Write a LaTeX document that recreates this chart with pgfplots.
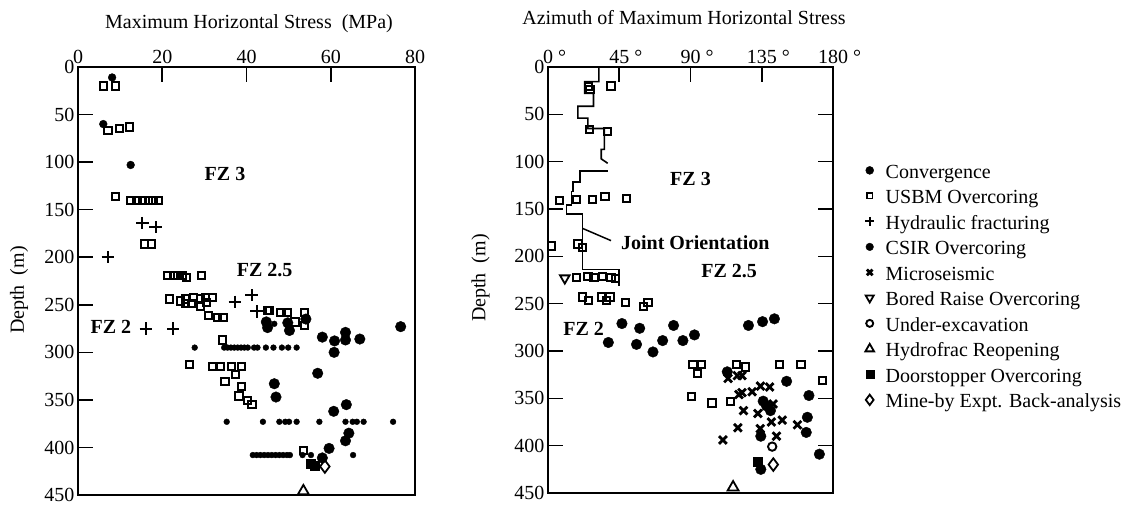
\documentclass[border=0pt]{standalone}
\usepackage{fontspec}
\setmainfont{Liberation Serif}
\usepackage{pgfplots}
\pgfplotsset{compat=1.18}
\newcommand{\fs}{\fontsize{20}{24}\selectfont}
\pgfplotsset{
  conv/.style={only marks, black, mark=*, mark size=5.3pt},
  convs/.style={only marks, black, mark=*, mark size=3.9pt},
  csir/.style={only marks, black, mark=*, mark size=2.9pt},
  usbm/.style={only marks, black, mark=square, mark size=3.6pt, mark options={line width=2pt}},
  hyd/.style={only marks, black, mark=+, mark size=6.2pt, mark options={line width=2pt}},
  micro/.style={only marks, black, mark=x, mark size=5.5pt, mark options={line width=2.8pt}},
  bored/.style={only marks, black, mark=triangle, mark size=5.5pt, mark options={rotate=180, line width=1.8pt, fill=white}},
  under/.style={only marks, black, mark=o, mark size=4.2pt, mark options={line width=1.9pt, fill=white}},
  hfr/.style={only marks, black, mark=triangle, mark size=6.3pt, mark options={line width=1.8pt, fill=white}},
  door/.style={only marks, black, mark=square*, mark size=4.7pt},
  mine/.style={only marks, black, mark=diamond, mark size=6.3pt, mark options={line width=1.8pt, fill=white}},
  base/.style={
    scale only axis, clip=false, y dir=reverse, ymin=0, ymax=450,
    ytick={0,50,...,450},
    tick align=inside, major tick length=15pt,
    axis line style={line width=1.6pt},
    every tick/.style={black, line width=1.6pt},
    tick label style={font=\fs},
    /pgf/number format/assume math mode=true,
    xtick pos=top, xticklabel pos=top,
    yticklabel pos=left,
  },
}
\begin{document}
\begin{tikzpicture}[x=1pt,y=1pt]
\useasboundingbox (0,-511) rectangle (1140,0);
% ---------------- left panel ----------------
\begin{axis}[base, at={(78pt,-67pt)}, anchor=north west, width=337pt, height=428pt,
  xmin=0, xmax=80, xtick={0,20,40,60,80}, ytick pos=left]
\addplot[convs] coordinates {(8.1,11) (6.0,60) (12.5,103)};
\addplot[conv] coordinates {
 (44.7,268) (45.0,274) (49.8,269) (50.2,277) (54.1,265) (58.0,284) (60.9,288)
 (60.8,300) (63.5,279) (63.5,287) (66.9,286) (76.6,273)
 (46.6,333) (47.0,347) (56.9,322) (60.7,362) (63.7,355) (64.3,385) (63.5,393)
 (59.6,401) (58.0,411)};
\addplot[csir] coordinates {
 (46.6,270)
 (27.7,295) (34.7,295) (35.5,295) (36.3,295) (37.1,295) (37.9,295) (38.7,295)
 (39.5,295) (40.3,295) (41.8,295) (42.6,295) (44.6,295) (46.4,295) (48.4,295)
 (49.9,295) (51.9,295)
 (35.3,373) (43.9,373) (47.8,373) (49.2,373) (50.1,373) (51.9,373) (57.3,373)
 (63.5,373) (65.2,373) (66.2,373) (67.8,373) (74.8,373)
 (41.5,408) (42.4,408) (43.3,408) (44.2,408) (45.1,408) (46.0,408) (46.9,408)
 (47.8,408) (48.7,408) (49.6,408) (50.3,408) (53.3,408) (55.3,408) (65.3,408)};
\addplot[usbm] coordinates {
 (6.0,20) (8.9,20) (7.1,67) (9.8,65) (12.2,63) (8.9,136)
 (12.6,140) (14.0,140) (15.3,140) (16.7,140) (17.8,140) (19.1,140)
 (15.7,186) (17.4,186)
 (21.2,219) (22.6,219) (23.7,219) (24.8,219) (25.8,221) (29.4,219)
 (21.7,244) (24.3,246) (25.6,244) (27.5,242) (29.0,243) (30.2,242) (32.0,242)
 (25.6,249) (27.0,249) (29.0,252) (30.5,248) (30.9,261)
 (33.1,263) (34.4,263) (34.3,287)
 (44.9,256) (45.5,256) (48.2,258) (49.6,258) (51.5,268) (53.7,258) (53.7,272)
 (26.4,313) (31.9,315) (33.9,315) (36.4,315) (38.9,315) (34.9,331) (37.3,323)
 (38.9,336) (38.2,346) (40.2,351) (41.3,355) (53.5,403)};
\addplot[hyd] coordinates {
 (15.3,164) (18.4,168.5) (7.1,200) (37.2,247) (41.2,240) (42.4,257) (16.1,275) (22.6,275)};
\addplot[door] coordinates {(55.2,417) (56.2,419)};
\addplot[mine] coordinates {(58.6,420)};
\addplot[hfr] coordinates {(53.5,446)};
\node[font=\fs\bfseries] at (axis cs:34.9,112.6) {FZ 3};
\node[font=\fs\bfseries] at (axis cs:44.3,213) {FZ 2.5};
\node[font=\fs\bfseries] at (axis cs:7.8,273.4) {FZ 2};
\end{axis}
% ---------------- right panel ----------------
\begin{axis}[base, at={(548pt,-67pt)}, anchor=north west, width=285pt, height=426pt,
  xmin=0, xmax=180, xtick={0,45,90,135,180},
  xticklabels={0\rlap{\ °},45\rlap{\ °},90\rlap{\ °},135\rlap{\ °},180\rlap{\ °}},
  ytick pos=both,
  legend cell align=left,
  legend image code/.code={\path[draw=none,fill=none] (0pt,-2pt) rectangle (12pt,2pt); \draw[#1] plot coordinates {(3pt,3pt)};},
  legend style={at={(1.1123,0.776)}, anchor=north west, draw=none, fill=none,
    font=\fs, row sep=4pt, column sep=5.5pt, inner sep=0pt,
    nodes={inner sep=1.5pt, text height=14pt, text depth=4.5pt}}]
\addlegendimage{conv, mark size=4pt}\addlegendentry{Convergence}
\addlegendimage{usbm, mark size=2.8pt, mark options={line width=1.6pt}}\addlegendentry{USBM Overcoring}
\addlegendimage{hyd, mark size=4.5pt}\addlegendentry{Hydraulic fracturing}
\addlegendimage{conv, mark size=3.8pt}\addlegendentry{CSIR Overcoring}
\addlegendimage{micro, mark size=4pt}\addlegendentry{Microseismic}
\addlegendimage{bored, mark size=4.6pt}\addlegendentry{Bored Raise Overcoring}
\addlegendimage{under, mark size=3.5pt}\addlegendentry{Under-excavation}
\addlegendimage{hfr, mark size=5pt}\addlegendentry{Hydrofrac Reopening}
\addlegendimage{door, mark size=4pt}\addlegendentry{Doorstopper Overcoring}
\addlegendimage{mine, mark size=5.2pt}\addlegendentry{Mine-by Expt. Back-analysis}
% joint orientation
\addplot[forget plot, black, line width=1.6pt] coordinates {
 (32.1,0) (32.1,15.4) (23.1,15.4) (23.1,27.7) (28.75,27.7) (28.75,41.5)
 (18.9,41.5) (18.9,54) (25.2,54) (25.2,65) (35.6,65) (35.6,87) (33.6,87)
 (33.6,97) (37.7,101.7)};
\addplot[forget plot, black, line width=1.6pt] coordinates {
 (37.7,110) (20.2,110) (20.2,121.4) (15.8,121.4) (15.8,131.4) (14.8,131.4)
 (14.8,146) (11.7,146) (11.7,155) (21.7,155) (21.7,214) (45,214) (45,231)};
\addplot[usbm, forget plot] coordinates {
 (25.8,21) (26.5,24) (39.8,20) (26.3,66) (37.7,68)
 (7.5,141) (17.9,140) (28.3,140) (36,137) (49.7,139)
 (2.3,189) (19,187) (21.7,190.5)
 (17.9,222) (25.2,221) (29,222) (34.6,221) (39.8,222) (42.5,223)
 (21.7,243) (25.8,247) (33.6,243) (36.7,247) (39.2,243) (48.9,249) (60.4,253) (63.2,249)
 (91.6,314) (96.9,314) (94.6,324) (90.6,348) (103.6,355) (115.3,353)
 (119.2,314) (124.7,317) (146.1,314) (159.8,314) (173.4,331)};
\addplot[conv, forget plot] coordinates {
 (46.7,271) (57.9,276) (79.3,273) (38.1,291) (55.9,293) (66.3,301) (72.4,289)
 (85.2,289) (92.5,283) (126.6,273) (135.5,269) (143,266)
 (113.2,322) (150.7,332) (164.8,347) (135.9,353) (138,358) (140.5,363) (163.8,370)
 (163.1,386) (134.4,390) (171.4,409) (134.4,425)};
\addplot[micro, forget plot] coordinates {
 (113.7,329) (119.6,326) (122.5,326) (120.6,346) (122.5,344) (128.9,343)
 (134.2,337) (140,338) (123.5,363) (132.6,366) (141.1,375) (147.9,373)
 (134,382) (119.9,381) (157.5,378) (110.5,394) (144.3,390) (142.2,356)};
\addplot[bored, forget plot] coordinates {(10.6,223)};
\addplot[under, forget plot] coordinates {(141.6,401)};
\addplot[door, forget plot] coordinates {(132.6,417)};
\addplot[mine, forget plot] coordinates {(142.3,420)};
\addplot[hfr, forget plot] coordinates {(116.9,444)};
\draw[line width=1.5pt] (axis cs:21.7,170.4) -- (axis cs:39.8,183.4);
\node[font=\fs\bfseries] at (axis cs:90,118.7) {FZ 3};
\node[font=\fs\bfseries] at (axis cs:93,185.2) {Joint Orientation};
\node[font=\fs\bfseries] at (axis cs:114.4,215.9) {FZ 2.5};
\node[font=\fs\bfseries] at (axis cs:22.5,276.5) {FZ 2};
\end{axis}
% ---------------- axis titles ----------------
\node[font=\fs, anchor=base] at (249,-28.3) {Maximum Horizontal Stress\ \ (MPa)};
\node[font=\fs, anchor=base] at (684,-25) {Azimuth of Maximum Horizontal Stress};
\node[font=\fs, rotate=90] at (19,-290) {Depth\ \ (m)};
\node[font=\fs, rotate=90] at (480.5,-278) {Depth\ \ (m)};
\end{tikzpicture}
\end{document}
